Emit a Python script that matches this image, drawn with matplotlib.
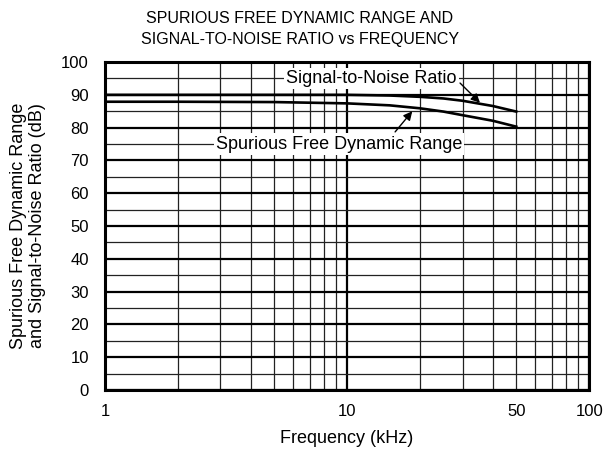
import matplotlib.pyplot as plt
from matplotlib.ticker import FixedLocator, NullLocator

plt.rcParams['font.family'] = ['Liberation Sans', 'DejaVu Sans']

# data
freq = [1, 2, 5, 10, 15, 20, 25, 30, 40, 50]
snr = [90.0, 90.0, 90.0, 90.0, 89.8, 89.4, 88.9, 88.2, 86.6, 84.9]
sfdr = [87.9, 87.9, 87.8, 87.4, 86.8, 85.9, 84.9, 83.8, 82.1, 80.3]

x_ticks = [1, 10, 50, 100]
y_ticks = list(range(0, 101, 10))

fig = plt.figure(figsize=(6.03, 4.58), dpi=100)
ax = fig.add_axes([0.174, 0.1485, 0.803, 0.716])

ax.set_xscale('log')
ax.set_xlim(1, 100)
ax.set_ylim(0, 100)

# grid: heavy at decades / every 10 dB, light in between
for v in [1, 10, 100]:
    ax.axvline(v, color='black', lw=1.6, zorder=1)
minor_x = [m * d for d in (1, 10) for m in range(2, 10)]
for v in minor_x:
    ax.axvline(v, color='#222222', lw=0.9, zorder=1)
for v in range(0, 101, 10):
    ax.axhline(v, color='black', lw=1.6, zorder=1)
for v in range(5, 100, 10):
    ax.axhline(v, color='#222222', lw=0.9, zorder=1)

ax.plot(freq, snr, color='black', lw=1.9, zorder=3)
ax.plot(freq, sfdr, color='black', lw=1.9, zorder=3)

ax.xaxis.set_major_locator(FixedLocator(x_ticks))
ax.xaxis.set_minor_locator(NullLocator())
ax.set_xticks(x_ticks)
ax.set_xticklabels([str(v) for v in x_ticks])
ax.set_yticks(y_ticks)
ax.tick_params(length=0, labelsize=12)
ax.tick_params(axis='x', pad=10)
ax.tick_params(axis='y', pad=11.5)

for s in ax.spines.values():
    s.set_linewidth(2.2)
    s.set_zorder(5)

box = dict(facecolor='white', edgecolor='none', pad=1.5)
ax.text(12.6, 95, 'Signal-to-Noise Ratio', ha='center', va='center',
        fontsize=13, bbox=box, zorder=4)
ax.text(9.27, 75, 'Spurious Free Dynamic Range', ha='center', va='center',
        fontsize=13, bbox=box, zorder=4)

arrow = dict(arrowstyle='-|>', color='black', lw=1.0, mutation_scale=13,
             shrinkA=0, shrinkB=0)
ax.annotate('', xy=(35.4, 87.6), xytext=(29.3, 93.6), arrowprops=arrow, zorder=4)
ax.annotate('', xy=(18.6, 85.0), xytext=(15.8, 78.7), arrowprops=arrow, zorder=4)

ax.set_xlabel('Frequency (kHz)', fontsize=13, va='center')
ax.xaxis.set_label_coords(0.5, -(439 - 390) / 328)
ax.set_ylabel('Spurious Free Dynamic Range\nand Signal-to-Noise Ratio (dB)',
              fontsize=13, va='center', linespacing=1.15)
ax.yaxis.set_label_coords((28 - 105) / 484, 0.5)
fig.text(300 / 603, 1 - 29 / 458,
         'SPURIOUS FREE DYNAMIC RANGE AND\nSIGNAL-TO-NOISE RATIO vs FREQUENCY',
         ha='center', va='center', fontsize=11.5, linespacing=1.55)

fig.savefig('out.png', dpi=100)
